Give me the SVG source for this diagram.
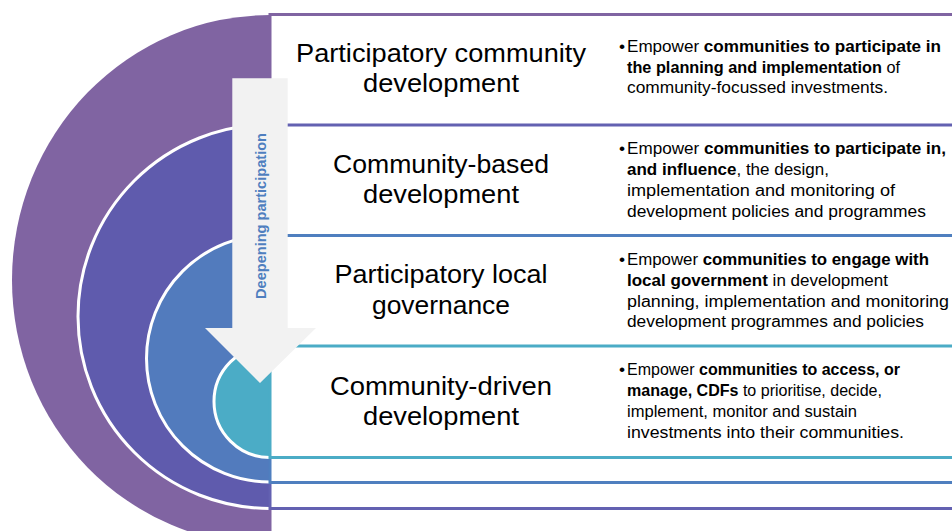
<svg xmlns="http://www.w3.org/2000/svg" width="952" height="531" viewBox="0 0 952 531">
  <style>
    .ring { stroke: #ffffff; stroke-width: 3; }
    .box { fill: #ffffff; stroke-width: 3; }
    .title { font-family: "Liberation Sans", Arial, sans-serif; font-size: 26px; fill: #000000; text-anchor: middle; }
    .desc { font-family: "Liberation Sans", Arial, sans-serif; font-size: 17.3px; fill: #000000; }
    .b { font-weight: bold; }
    .arrowlabel { font-family: "Liberation Sans", Arial, sans-serif; font-size: 14.5px; font-weight: bold; fill: #4f7fbf; text-anchor: middle; }
  </style>
  <rect width="952" height="531" fill="#ffffff"/>

  <g id="layer-1">
    <path d="M270,15 A258,265 0 0 0 270,545" fill="#8064a2"/>
    <rect class="box" x="270" y="14.5" width="700" height="531" stroke="#8064a2"/>
    <text class="title" x="441" y="61.5" textLength="290" lengthAdjust="spacingAndGlyphs">Participatory community</text>
    <text class="title" x="441" y="91.5" textLength="156" lengthAdjust="spacingAndGlyphs">development</text>
    <text class="desc" x="619" y="51.7">•</text>
    <text class="desc" x="627" y="51.7" textLength="314" lengthAdjust="spacingAndGlyphs">Empower <tspan class="b">communities to participate in</tspan></text>
    <text class="desc" x="627" y="72.6" textLength="273" lengthAdjust="spacingAndGlyphs"><tspan class="b">the planning and implementation</tspan> of</text>
    <text class="desc" x="627" y="93.4" textLength="261" lengthAdjust="spacingAndGlyphs">community-focussed investments.</text>
  </g>

  <g id="layer-2">
    <path class="ring" d="M270,124.5 A192,192 0 0 0 270,508.5" fill="#5f5bad"/>
    <rect class="box" x="270" y="125" width="700" height="383.5" stroke="#6361b1"/>
    <text class="title" x="441" y="172.7" textLength="216" lengthAdjust="spacingAndGlyphs">Community-based</text>
    <text class="title" x="441" y="203.2" textLength="156" lengthAdjust="spacingAndGlyphs">development</text>
    <text class="desc" x="619" y="154.3">•</text>
    <text class="desc" x="627" y="154.3" textLength="319" lengthAdjust="spacingAndGlyphs">Empower <tspan class="b">communities to participate in,</tspan></text>
    <text class="desc" x="627" y="175.1" textLength="202" lengthAdjust="spacingAndGlyphs"><tspan class="b">and influence</tspan>, the design,</text>
    <text class="desc" x="627" y="195.9" textLength="268" lengthAdjust="spacingAndGlyphs">implementation and monitoring of</text>
    <text class="desc" x="627" y="216.7" textLength="299" lengthAdjust="spacingAndGlyphs">development policies and programmes</text>
  </g>

  <g id="layer-3">
    <path class="ring" d="M270,235 A123.5,123.5 0 0 0 270,482" fill="#527bbd"/>
    <rect class="box" x="270" y="235.5" width="700" height="247" stroke="#4f7fbf"/>
    <text class="title" x="441" y="283.3" textLength="213" lengthAdjust="spacingAndGlyphs">Participatory local</text>
    <text class="title" x="441" y="313.5" textLength="138" lengthAdjust="spacingAndGlyphs">governance</text>
    <text class="desc" x="619" y="265">•</text>
    <text class="desc" x="627" y="265" textLength="302" lengthAdjust="spacingAndGlyphs">Empower <tspan class="b">communities to engage with</tspan></text>
    <text class="desc" x="627" y="285.8" textLength="261" lengthAdjust="spacingAndGlyphs"><tspan class="b">local government</tspan> in development</text>
    <text class="desc" x="627" y="306.6" textLength="322" lengthAdjust="spacingAndGlyphs">planning, implementation and monitoring</text>
    <text class="desc" x="627" y="327.4" textLength="297" lengthAdjust="spacingAndGlyphs">development programmes and policies</text>
  </g>

  <g id="layer-4">
    <path class="ring" d="M270,345.5 A56,56 0 0 0 270,457.5" fill="#4bacc6"/>
    <rect class="box" x="270" y="346" width="700" height="111.5" stroke="#4bacc6"/>
    <text class="title" x="441" y="395" textLength="222" lengthAdjust="spacingAndGlyphs">Community-driven</text>
    <text class="title" x="441" y="425.3" textLength="156" lengthAdjust="spacingAndGlyphs">development</text>
    <text class="desc" x="619" y="375.4">•</text>
    <text class="desc" x="627" y="375.4" textLength="273" lengthAdjust="spacingAndGlyphs">Empower <tspan class="b">communities to access, or</tspan></text>
    <text class="desc" x="627" y="396.2" textLength="255" lengthAdjust="spacingAndGlyphs"><tspan class="b">manage, CDFs</tspan> to prioritise, decide,</text>
    <text class="desc" x="627" y="417" textLength="230" lengthAdjust="spacingAndGlyphs">implement, monitor and sustain</text>
    <text class="desc" x="627" y="437.8" textLength="277" lengthAdjust="spacingAndGlyphs">investments into their communities.</text>
  </g>

  <g id="arrow">
    <polygon points="232.3,78.3 287.7,78.3 287.7,328 316,328 260,383 205,328 232.3,328" fill="#f2f2f2"/>
    <text class="arrowlabel" transform="translate(266,216) rotate(-90)" x="0" y="0" textLength="166" lengthAdjust="spacingAndGlyphs">Deepening participation</text>
  </g>
</svg>
